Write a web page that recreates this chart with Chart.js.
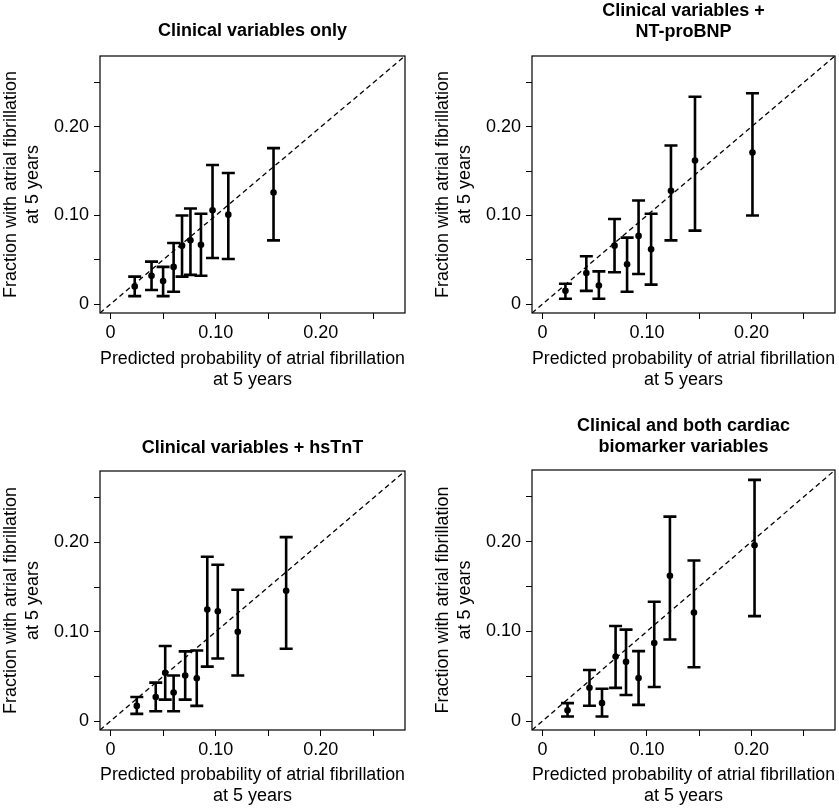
<!DOCTYPE html>
<html>
<head>
<meta charset="utf-8">
<script src="https://cdn.jsdelivr.net/npm/chart.js@4"></script>
<style>
  body { margin: 0; background: #fff; }
  #wrap { position: relative; width: 839px; height: 810px; }
  canvas { position: absolute; }
</style>
</head>
<body>
<div id="wrap">
  <canvas id="c1" width="420" height="405" style="left:0px;top:0px"></canvas>
  <canvas id="c2" width="419" height="405" style="left:420px;top:0px"></canvas>
  <canvas id="c3" width="420" height="400" style="left:0px;top:410px"></canvas>
  <canvas id="c4" width="419" height="400" style="left:420px;top:410px"></canvas>
</div>
<script>
// axes shared by all four panels
const axisMin = -0.01;
const axisMax = 0.28;
const axisTicks = [0, 0.05, 0.10, 0.15, 0.20, 0.25];
const tickLabels = ['0', '', '0.10', '', '0.20', ''];
const refLine = [axisMin, axisMax];

const xTitle = ['Predicted probability of atrial fibrillation', 'at 5 years'];
const yTitle = ['Fraction with atrial fibrillation', 'at 5 years'];

// Clinical variables only
const clinX  = [0.023, 0.039, 0.050, 0.060, 0.068, 0.076, 0.086, 0.097, 0.112, 0.155];
const clinY  = [0.020, 0.032, 0.026, 0.042, 0.066, 0.072, 0.067, 0.106, 0.101, 0.126];
const clinLo = [0.009, 0.016, 0.009, 0.014, 0.031, 0.033, 0.032, 0.052, 0.051, 0.072];
const clinHi = [0.031, 0.048, 0.042, 0.069, 0.100, 0.108, 0.102, 0.157, 0.148, 0.176];

// Clinical variables + NT-proBNP
const bnpX  = [0.022, 0.042, 0.054, 0.069, 0.081, 0.092, 0.104, 0.123, 0.146, 0.201];
const bnpY  = [0.015, 0.035, 0.021, 0.066, 0.045, 0.077, 0.062, 0.128, 0.162, 0.171];
const bnpLo = [0.006, 0.015, 0.006, 0.036, 0.014, 0.034, 0.022, 0.072, 0.083, 0.100];
const bnpHi = [0.023, 0.054, 0.037, 0.096, 0.075, 0.117, 0.102, 0.179, 0.234, 0.238];

// Clinical variables + hsTnT
const tntX  = [0.025, 0.043, 0.052, 0.060, 0.071, 0.082, 0.092, 0.102, 0.121, 0.167];
const tntY  = [0.017, 0.027, 0.054, 0.032, 0.051, 0.048, 0.125, 0.123, 0.100, 0.146];
const tntLo = [0.008, 0.011, 0.024, 0.011, 0.024, 0.017, 0.061, 0.070, 0.051, 0.081];
const tntHi = [0.027, 0.043, 0.084, 0.051, 0.078, 0.079, 0.184, 0.175, 0.147, 0.206];

// Clinical and both cardiac biomarker variables
const bothX  = [0.024, 0.045, 0.057, 0.070, 0.080, 0.092, 0.107, 0.122, 0.145, 0.203];
const bothY  = [0.012, 0.037, 0.020, 0.072, 0.066, 0.048, 0.087, 0.162, 0.121, 0.196];
const bothLo = [0.005, 0.017, 0.005, 0.037, 0.029, 0.018, 0.038, 0.091, 0.060, 0.117];
const bothHi = [0.020, 0.057, 0.036, 0.106, 0.102, 0.078, 0.133, 0.228, 0.179, 0.269];

Chart.defaults.font.family = '"Liberation Sans", Arial, Helvetica, sans-serif';
Chart.defaults.color = '#000';

// vertical error bars with caps, read from dataset.errLo / errHi
const errorBars = {
  id: 'errorBars',
  afterDatasetsDraw(chart) {
    const ctx = chart.ctx;
    const yScale = chart.scales.y;
    chart.data.datasets.forEach((ds, i) => {
      if (!ds.errLo) return;
      const meta = chart.getDatasetMeta(i);
      ctx.save();
      ctx.strokeStyle = '#000';
      ctx.lineWidth = 2.6;
      meta.data.forEach((pt, j) => {
        const yLo = yScale.getPixelForValue(ds.errLo[j]);
        const yHi = yScale.getPixelForValue(ds.errHi[j]);
        ctx.beginPath();
        ctx.moveTo(pt.x, yLo); ctx.lineTo(pt.x, yHi);
        ctx.moveTo(pt.x - 6.5, yLo); ctx.lineTo(pt.x + 6.5, yLo);
        ctx.moveTo(pt.x - 6.5, yHi); ctx.lineTo(pt.x + 6.5, yHi);
        ctx.stroke();
      });
      ctx.restore();
    });
  }
};

// full box round the plot region
const frameBox = {
  id: 'frameBox',
  afterDraw(chart) {
    const { left, top, right, bottom } = chart.chartArea;
    const ctx = chart.ctx;
    ctx.save();
    ctx.strokeStyle = '#000';
    ctx.lineWidth = 1.2;
    ctx.strokeRect(left, top, right - left, bottom - top);
    ctx.restore();
  }
};

function makePanel(id, title, xs, ys, lo, hi, p) {
  const ctx = document.getElementById(id).getContext('2d');
  return new Chart(ctx, {
    type: 'scatter',
    data: {
      datasets: [{
        data: xs.map((x, i) => ({ x, y: ys[i] })),
        errLo: lo,
        errHi: hi,
        pointRadius: 3.3,
        pointBackgroundColor: '#000',
        pointBorderWidth: 0
      }, {
        type: 'line',
        data: refLine.map(v => ({ x: v, y: v })),
        borderColor: '#000',
        borderWidth: 1.3,
        borderDash: [5, 3.5],
        pointRadius: 0,
        fill: false
      }]
    },
    options: {
      responsive: false,
      animation: false,
      devicePixelRatio: 1,
      layout: { padding: { left: 0, right: p.padRight, top: 0, bottom: 0 } },
      plugins: {
        legend: { display: false },
        tooltip: { enabled: false },
        title: {
          display: true,
          text: title,
          fullSize: false,
          color: '#000',
          font: { size: 18, weight: 'bold', lineHeight: 21 / 18 },
          padding: { top: p.titleTop, bottom: p.titleBottom }
        }
      },
      scales: {
        x: {
          type: 'linear',
          min: axisMin,
          max: axisMax,
          afterBuildTicks: s => { s.ticks = axisTicks.map(v => ({ value: v })); },
          afterFit: s => { s.height = p.xHeight; },
          ticks: {
            callback: (v, i) => tickLabels[i],
            autoSkip: false,
            maxRotation: 0,
            padding: 3,
            font: { size: 18 }
          },
          grid: { drawOnChartArea: false, drawTicks: true, tickLength: 6, color: '#000' },
          border: { display: false },
          title: {
            display: true,
            text: xTitle,
            font: { size: 18, lineHeight: 21 / 18 },
            padding: { top: 0, bottom: p.xTitleBottom }
          }
        },
        y: {
          type: 'linear',
          min: axisMin,
          max: axisMax,
          afterBuildTicks: s => { s.ticks = axisTicks.map(v => ({ value: v })); },
          afterFit: s => { s.width = p.yWidth; },
          ticks: {
            callback: (v, i) => tickLabels[i],
            autoSkip: false,
            padding: 5,
            font: { size: 18 }
          },
          grid: { drawOnChartArea: false, drawTicks: true, tickLength: 6, color: '#000' },
          border: { display: false },
          title: {
            display: true,
            text: yTitle,
            font: { size: 18, lineHeight: 22 / 18 },
            padding: { top: p.yTitleTop, bottom: 0 }
          }
        }
      }
    },
    plugins: [errorBars, frameBox]
  });
}

makePanel('c1', 'Clinical variables only', clinX, clinY, clinLo, clinHi,
  { padRight: 15, yWidth: 100, xHeight: 92, titleTop: 21, titleBottom: 14, xTitleBottom: 14.5, yTitleTop: 0 });
makePanel('c2', ['Clinical variables +', 'NT-proBNP'], bnpX, bnpY, bnpLo, bnpHi,
  { padRight: 2, yWidth: 112, xHeight: 92, titleTop: 1, titleBottom: 13, xTitleBottom: 14.5, yTitleTop: 11.7 });
makePanel('c3', 'Clinical variables + hsTnT', tntX, tntY, tntLo, tntHi,
  { padRight: 15, yWidth: 100, xHeight: 80, titleTop: 27.5, titleBottom: 12.5, xTitleBottom: 3.5, yTitleTop: 0 });
makePanel('c4', ['Clinical and both cardiac', 'biomarker variables'], bothX, bothY, bothLo, bothHi,
  { padRight: 2, yWidth: 112, xHeight: 80, titleTop: 5.5, titleBottom: 12.5, xTitleBottom: 3.5, yTitleTop: 11.7 });
</script>
</body>
</html>
